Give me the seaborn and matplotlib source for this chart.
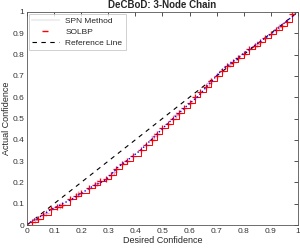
import matplotlib
matplotlib.use('Agg')
import matplotlib.pyplot as plt
import seaborn as sns
import pandas as pd
import numpy as np

# Calibration data
desired_solbp = [0.0, 0.02, 0.04, 0.06, 0.09, 0.11, 0.13, 0.16, 0.18, 0.20, 0.23, 0.25,
                 0.27, 0.29, 0.31, 0.33, 0.35, 0.37, 0.39, 0.42, 0.44, 0.46, 0.48, 0.50,
                 0.52, 0.54, 0.56, 0.58, 0.60, 0.62, 0.64, 0.66, 0.68, 0.70, 0.72, 0.74,
                 0.76, 0.78, 0.80, 0.82, 0.84, 0.86, 0.88, 0.90, 0.92, 0.94, 0.96, 0.98]
actual_solbp = [0.0, 0.015, 0.03, 0.045, 0.075, 0.085, 0.095, 0.12, 0.135, 0.15, 0.175, 0.19,
                0.205, 0.215, 0.235, 0.265, 0.285, 0.30, 0.325, 0.352, 0.375, 0.40, 0.425, 0.455,
                0.475, 0.50, 0.525, 0.548, 0.575, 0.60, 0.625, 0.65, 0.675, 0.70, 0.725, 0.745,
                0.765, 0.785, 0.805, 0.825, 0.84, 0.86, 0.88, 0.895, 0.915, 0.935, 0.955, 0.99]

desired_spn = [0.0, 0.05, 0.09, 0.165, 0.24, 0.29, 0.335, 0.42, 0.51, 0.58, 0.63, 0.72,
               0.80, 0.90, 0.99]
actual_spn = [0.005, 0.04, 0.074, 0.121, 0.18, 0.211, 0.27, 0.352, 0.465, 0.548, 0.603, 0.728,
              0.806, 0.896, 0.99]

desired_pink = [0.03, 0.07, 0.12, 0.19, 0.26, 0.32, 0.47, 0.55, 0.67, 0.75, 0.85, 0.93]
actual_pink = [0.022, 0.055, 0.09, 0.145, 0.195, 0.25, 0.42, 0.515, 0.665, 0.755, 0.85, 0.93]

ref = [0, 1]

sns.set_style('white')
plt.rcParams['font.family'] = ['Liberation Sans', 'DejaVu Sans']

fig = plt.figure(figsize=(3, 2.5), dpi=100)
ax = fig.add_axes([0.09, 0.1, 0.903, 0.852])

sns.lineplot(x=ref, y=ref, ax=ax, color='black', linestyle=(0, (4, 4)), linewidth=0.8,
             sort=False, label='Reference Line')
sns.lineplot(x=desired_pink, y=actual_pink, ax=ax, color='#f4a6b4', linestyle='none',
             marker='+', markersize=5, markeredgewidth=0.9, markeredgecolor='#f4a6b4',
             sort=False, label='SPN Method')
sns.lineplot(x=desired_solbp, y=actual_solbp, ax=ax, color='red', linewidth=0.7,
             drawstyle='steps-post', marker='+', markersize=5, markeredgewidth=0.9,
             markeredgecolor='red', sort=False, label='SOLBP')
sns.lineplot(x=desired_spn, y=actual_spn, ax=ax, color='blue', linestyle=':',
             linewidth=1.0, sort=False, label='_spn_line')

ax.set_xlim(0, 1)
ax.set_ylim(0, 1)
ticks = np.arange(0, 1.01, 0.1)
ax.set_xticks(ticks)
ax.set_yticks(ticks)
ax.set_xticklabels(['0', '0.1', '0.2', '0.3', '0.4', '0.5', '0.6', '0.7', '0.8', '0.9', '1'])
ax.set_yticklabels(['0', '0.1', '0.2', '0.3', '0.4', '0.5', '0.6', '0.7', '0.8', '0.9', '1'])
ax.tick_params(direction='in', length=3, width=0.6, labelsize=6, colors='#333333',
               top=True, right=True, pad=2)
for s in ax.spines.values():
    s.set_color('#555555')
    s.set_linewidth(0.6)

ax.set_xlabel('Desired Confidence', fontsize=6.5, labelpad=1)
ax.set_ylabel('Actual Confidence', fontsize=6.5, labelpad=1)
ax.set_title('DeCBoD: 3-Node Chain', fontsize=7, fontweight='bold', pad=3)

h, l = ax.get_legend_handles_labels()
order = [l.index('SPN Method'), l.index('SOLBP'), l.index('Reference Line')]
leg = ax.legend([h[i] for i in order], [l[i] for i in order], loc='upper left',
                fontsize=6, frameon=True, fancybox=False, borderaxespad=0.2,
                handlelength=3.2, labelspacing=0.4)
leg.get_frame().set_edgecolor('#bbbbbb')
leg.get_frame().set_linewidth(0.6)
handles = leg.legend_handles
handles[0].set_marker('None')
handles[0].set_linestyle('-')
handles[0].set_color('#eeeeee')
handles[1].set_linestyle('None')
handles[1].set_marker('_')
handles[1].set_markersize(4)
handles[1].set_markeredgewidth(1.0)
handles[1].set_markeredgecolor('red')

fig.savefig('out.png', dpi=100)
